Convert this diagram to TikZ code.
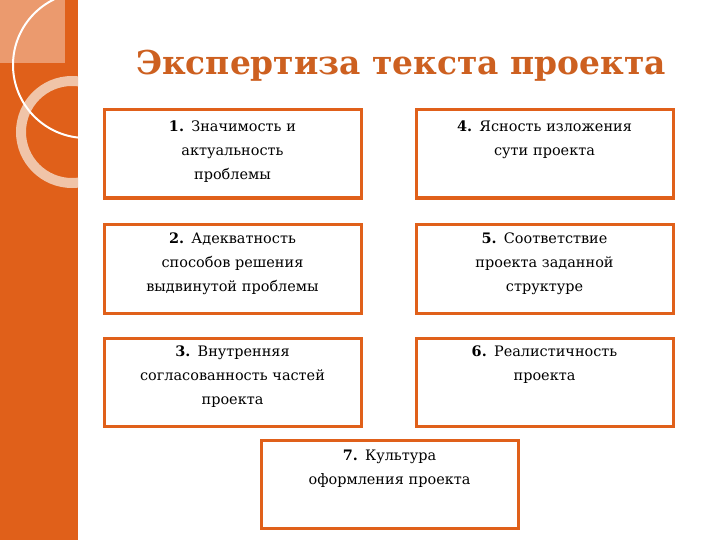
\documentclass[tikz,border=0pt]{standalone}
\usepackage{fontspec}
\setmainfont{DejaVu Serif}
\definecolor{bar}{HTML}{E0601A}
\definecolor{barlight}{HTML}{EB9A6E}
\definecolor{ring}{HTML}{F0C4A8}
\definecolor{ttl}{HTML}{CD6020}
\begin{document}
\begin{tikzpicture}[x=1bp,y=-1bp,
  box/.style={draw=bar,line width=3bp,fill=white,minimum width=257bp,minimum height=88bp,anchor=north west},
  txt/.style={anchor=north,align=center,font=\fontsize{14.5}{24}\selectfont,text width=250bp}]
\useasboundingbox (0,0) rectangle (720,540);
\fill[white] (0,0) rectangle (720,540);
\begin{scope}
\clip (0,0) rectangle (78,540);
\fill[bar] (0,0) rectangle (78,540);
\fill[barlight] (0,0) rectangle (65,63);
\draw[ring,line width=10bp] (72,132) circle[radius=51];
\draw[white,line width=2bp] (86,65) circle[radius=73];
\end{scope}
\node (title) [text=ttl,font=\bfseries\fontsize{33}{40}\selectfont] at (401,66) {Экспертиза текста проекта};
\node (b1) [box] at (102.5,108.5) {};
\node (b4) [box] at (414.5,108.5) {};
\node (b2) [box] at (102.5,223.5) {};
\node (b5) [box] at (414.5,223.5) {};
\node (b3) [box] at (102.5,336.5) {};
\node (b6) [box] at (414.5,336.5) {};
\node (b7) [box] at (259.5,438.5) {};
\node (t1) [txt] at ([yshift=-9bp]b1.north) {\textbf{1.} Значимость и\\актуальность\\проблемы};
\node (t4) [txt] at ([yshift=-9bp]b4.north) {\textbf{4.} Ясность изложения\\сути проекта};
\node (t2) [txt] at ([yshift=-6bp]b2.north) {\textbf{2.} Адекватность\\способов решения\\выдвинутой проблемы};
\node (t5) [txt] at ([yshift=-6bp]b5.north) {\textbf{5.} Соответствие\\проекта заданной\\структуре};
\node (t3) [txt] at ([yshift=-6bp]b3.north) {\textbf{3.} Внутренняя\\согласованность частей\\проекта};
\node (t6) [txt] at ([yshift=-6bp]b6.north) {\textbf{6.} Реалистичность\\проекта};
\node (t7) [txt] at ([yshift=-8bp]b7.north) {\textbf{7.} Культура\\оформления проекта};
\end{tikzpicture}
\end{document}
